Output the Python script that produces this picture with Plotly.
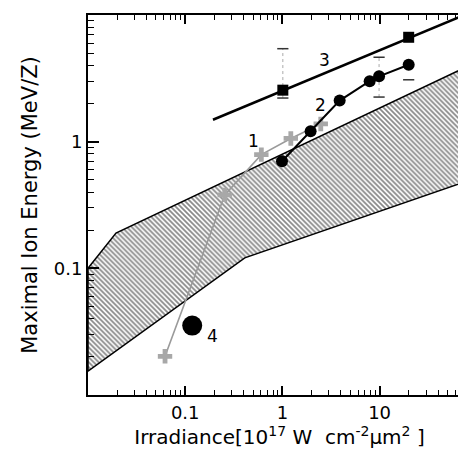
import math
import plotly.graph_objects as go

# ---- data ----
s1_x = [0.062, 0.255, 0.607, 1.22, 2.48]
s1_y = [0.0202, 0.38, 0.79, 1.06, 1.38]

s2_x = [0.99, 1.95, 3.88, 7.9, 9.87, 19.9]
s2_y = [0.70, 1.21, 2.11, 3.00, 3.28, 4.05]

s3_x = [1.01, 19.9]
s3_y = [2.55, 6.67]
fit3_x = [0.193, 87]
fit3_y = [1.49, 10.5]

s4_x = [0.118]
s4_y = [0.0353]

err_x = [1.01, 9.87, 19.9]
err_lo = [2.21, 2.25, 3.08]
err_hi = [5.42, 4.64, None]

band_upper_x = [0.01, 0.0194, 87]
band_upper_y = [0.10, 0.19, 4.05]
band_lower_x = [87, 0.41, 0.01]
band_lower_y = [0.50, 0.121, 0.0154]

labels = ["1", "2", "3", "4"]
label_x = [0.50, 2.48, 2.68, 0.19]
label_y = [1.01, 1.95, 4.42, 0.0292]

x_ticks = [0.1, 1, 10]
y_ticks = [0.1, 1]
x_minor = [m * 10.0 ** d for d in (-2, -1, 0, 1) for m in range(2, 10)]
y_minor = [m * 10.0 ** d for d in (-2, -1, 0) for m in range(2, 10)]

FONT = "DejaVu Sans"

fig = go.Figure()

# hatched band
fig.add_trace(go.Scatter(
    x=band_upper_x + band_lower_x + band_upper_x[:1],
    y=band_upper_y + band_lower_y + band_upper_y[:1],
    mode="lines", fill="toself",
    line=dict(color="black", width=1.5),
    fillcolor="white",
    fillpattern=dict(shape="\\", size=3.5, solidity=0.5, fgcolor="#111", bgcolor="white"),
    hoverinfo="skip", showlegend=False))

# error bars: dotted stems + caps
for xe, lo, hi in zip(err_x, err_lo, err_hi):
    ys = [v for v in (lo, hi) if v is not None]
    if len(ys) == 2:
        fig.add_trace(go.Scatter(x=[xe, xe], y=ys, mode="lines",
                                 line=dict(color="#aaa", width=1, dash="dot"),
                                 showlegend=False, hoverinfo="skip"))
    fig.add_trace(go.Scatter(x=[xe] * len(ys), y=ys, mode="markers",
                             marker=dict(symbol="line-ew", size=8,
                                         line=dict(color="#333", width=1.5)),
                             showlegend=False, hoverinfo="skip"))

# series 1: gray crosses
fig.add_trace(go.Scatter(x=s1_x, y=s1_y, mode="lines+markers",
                         line=dict(color="#9a9a9a", width=1.6),
                         marker=dict(symbol="cross", size=12, color="#a8a8a8"),
                         showlegend=False))

# series 3 fit line and squares
fig.add_trace(go.Scatter(x=fit3_x, y=fit3_y, mode="lines",
                         line=dict(color="black", width=2.5), showlegend=False))
fig.add_trace(go.Scatter(x=s3_x, y=s3_y, mode="markers",
                         marker=dict(symbol="square", size=11, color="black"),
                         showlegend=False))

# series 2: black circles
fig.add_trace(go.Scatter(x=s2_x, y=s2_y, mode="lines+markers",
                         line=dict(color="black", width=2),
                         marker=dict(symbol="circle", size=12, color="black"),
                         showlegend=False))

# series 4: big circle
fig.add_trace(go.Scatter(x=s4_x, y=s4_y, mode="markers",
                         marker=dict(symbol="circle", size=20, color="black"),
                         showlegend=False))

for t, xx, yy in zip(labels, label_x, label_y):
    fig.add_annotation(x=math.log10(xx), y=math.log10(yy), xref="x", yref="y",
                       text=t, showarrow=False,
                       font=dict(family=FONT, size=17, color="black"))

axis_common = dict(type="log", showgrid=False, zeroline=False, showline=True,
                   linecolor="black", linewidth=2, mirror="allticks",
                   ticks="inside", tickcolor="black", tickwidth=1.5,
                   automargin=False,
                   tickfont=dict(family=FONT, size=18, color="black"))

fig.update_xaxes(**axis_common, range=[-2, 1.94], tickvals=x_ticks,
                 ticktext=[str(v) for v in x_ticks], ticklen=9,
                 minor=dict(tickvals=x_minor, ticks="inside", ticklen=5,
                            tickcolor="black", tickwidth=1.2, showgrid=False),
                 title=dict(text="Irradiance[10<sup>17</sup> W  cm<sup>-2</sup>\u03bcm<sup>2</sup> ]",
                            font=dict(family=FONT, size=20, color="black"), standoff=6))
fig.update_yaxes(**axis_common, range=[-2, 1.0], tickvals=y_ticks,
                 ticktext=[str(v) for v in y_ticks], ticklen=11,
                 minor=dict(tickvals=y_minor, ticks="inside", ticklen=6,
                            tickcolor="black", tickwidth=1.2, showgrid=False),
                 title=dict(text="Maximal Ion Energy (MeV/Z)",
                            font=dict(family=FONT, size=21, color="black"), standoff=10))

fig.update_layout(width=466, height=449, margin=dict(l=80, r=3, t=7, b=62),
                  paper_bgcolor="white", plot_bgcolor="white")

fig.write_html("out.html")
